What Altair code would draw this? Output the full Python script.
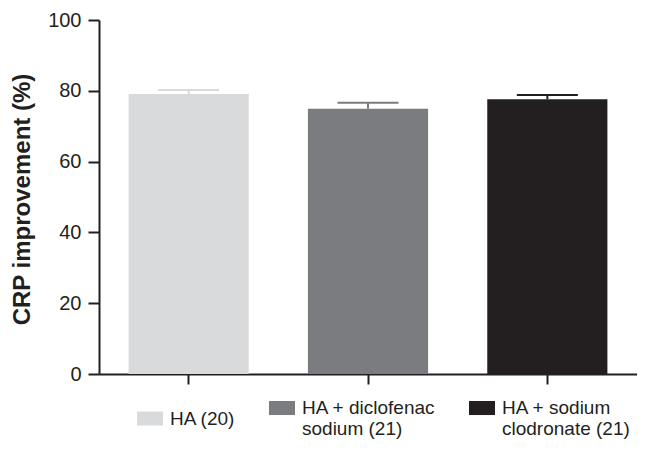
import altair as alt
import pandas as pd

groups = ["HA (20)", "HA + diclofenac\nsodium (21)", "HA + sodium\nclodronate (21)"]
means = [79.1, 74.9, 77.6]
upper = [80.2, 76.6, 78.8]
colors = ["#d9dadb", "#7b7c7f", "#231f20"]
y_ticks = [0, 20, 40, 60, 80, 100]

df = pd.DataFrame({"group": groups, "mean": means, "upper": upper})

INK = "#231f20"
FONT = "Liberation Sans"

xscale = alt.Scale(domain=groups, paddingInner=0.33, paddingOuter=0.165)
yscale = alt.Scale(domain=[0, 100])
cscale = alt.Scale(domain=groups, range=colors)

x_axis = alt.Axis(labels=False, title=None, ticks=True, tickSize=10, tickWidth=2,
                  tickColor=INK, domainColor=INK, domainWidth=2, grid=False)
y_axis = alt.Axis(values=y_ticks, grid=False, tickSize=11, tickWidth=2, tickColor=INK,
                  domainColor=INK, domainWidth=2, labelPadding=7, labelFont=FONT,
                  labelFontSize=20, labelColor=INK, titleFont=FONT, titleFontSize=24,
                  titleFontWeight="bold", titleColor=INK, titlePadding=13, titleY=179)

legend = alt.Legend(title=None, orient="none", legendX=38, legendY=381,
                    direction="horizontal", columns=3, gridAlign="each",
                    columnPadding=33, symbolType="M-1,-1H1V0.08H-1Z",
                    symbolSize=676, symbolStrokeWidth=0, symbolOpacity=1,
                    labelFont=FONT, labelFontSize=19, labelColor=INK,
                    labelBaseline="alphabetic",
                    labelOffset=7, labelLimit=0, padding=0,
                    labelExpr="split(datum.label, '\\n')")

base = alt.Chart(df)

bars = base.mark_bar().encode(
    x=alt.X("group:N", sort=groups, scale=xscale, axis=x_axis),
    y=alt.Y("mean:Q", scale=yscale, axis=y_axis, title="CRP improvement (%)"),
    color=alt.Color("group:N", sort=groups, scale=cscale, legend=legend),
)

rules = base.mark_rule(strokeWidth=2).encode(
    x=alt.X("group:N", sort=groups),
    y=alt.Y("mean:Q"),
    y2="upper:Q",
    color=alt.Color("group:N", sort=groups, legend=None),
)

caps = base.mark_tick(thickness=2, size=61, opacity=1).encode(
    x=alt.X("group:N", sort=groups),
    y=alt.Y("upper:Q"),
    color=alt.Color("group:N", sort=groups, legend=None),
)

chart = alt.layer(bars, rules, caps).properties(
    width=538, height=354,
    autosize=alt.AutoSizeParams(type="none"),
    padding={"left": 91, "top": 12, "right": 0, "bottom": 75},
    background="white",
).configure_view(stroke=None)

chart.save("out.html", embed_options={"renderer": "svg", "actions": False})
